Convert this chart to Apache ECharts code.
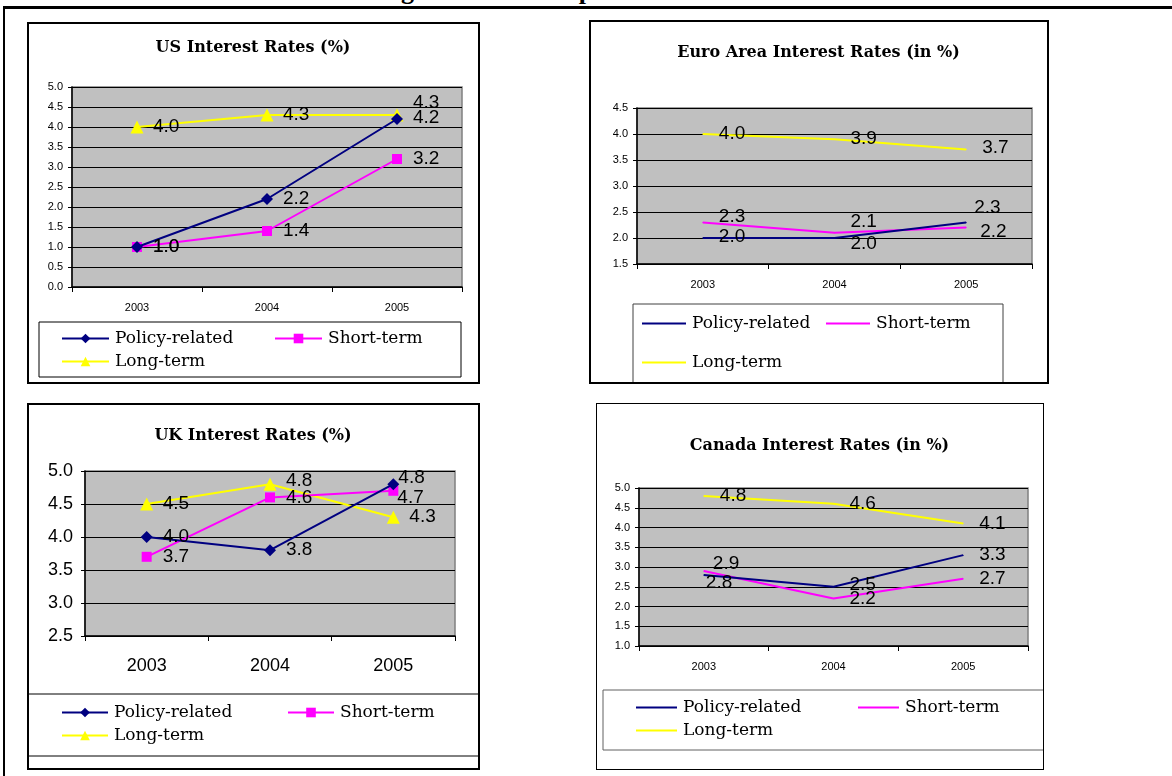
<!DOCTYPE html>
<html>
<head>
<meta charset="utf-8">
<script src="https://cdn.jsdelivr.net/npm/echarts@6/dist/echarts.min.js"></script>
<style>
  html, body { margin:0; padding:0; background:#fff; width:1172px; height:776px; overflow:hidden; position:relative; }
  .chart { position:absolute; }
  .box { position:absolute; box-sizing:border-box; border:2px solid #000; pointer-events:none; }
  #pagetitle { position:absolute; top:-24px; left:300px; width:582px; text-align:right; font:bold 26px/30px "Liberation Serif", serif; word-spacing:10px; white-space:nowrap; }
  #topline { position:absolute; left:3px; top:6px; width:1169px; height:3px; background:#000; }
  #leftline { position:absolute; left:3px; top:6px; width:2px; height:770px; background:#000; }
</style>
</head>
<body>
<div id="pagetitle">Figure 1.4: Comparison of Interest Rates</div>
<div id="topline"></div>
<div id="leftline"></div>

<div id="us" class="chart" style="left:27px;top:22px;width:452px;height:361px"></div>
<div id="eu" class="chart" style="left:589px;top:20px;width:459px;height:363px"></div>
<div id="uk" class="chart" style="left:27px;top:403px;width:452px;height:366px"></div>
<div id="ca" class="chart" style="left:596px;top:403px;width:447px;height:366px"></div>

<div class="box" style="left:27px;top:22px;width:453px;height:362px"></div>
<div class="box" style="left:589px;top:20px;width:460px;height:364px"></div>
<div class="box" style="left:27px;top:403px;width:453px;height:367px"></div>
<div class="box" style="left:596px;top:403px;width:448px;height:367px;border-width:1.5px"></div>

<script>
// ---------- data ----------
const years = ['2003', '2004', '2005'];
const seriesNames = ['Policy-related', 'Short-term', 'Long-term'];

const usPolicy = [1.0, 2.2, 4.2];
const usShort  = [1.0, 1.4, 3.2];
const usLong   = [4.0, 4.3, 4.3];

const euPolicy = [2.0, 2.0, 2.3];
const euShort  = [2.3, 2.1, 2.2];
const euLong   = [4.0, 3.9, 3.7];

const ukPolicy = [4.0, 3.8, 4.8];
const ukShort  = [3.7, 4.6, 4.7];
const ukLong   = [4.5, 4.8, 4.3];

const caPolicy = [2.8, 2.5, 3.3];
const caShort  = [2.9, 2.2, 2.7];
const caLong   = [4.8, 4.6, 4.1];

// ---------- styling ----------
const COLORS = ['#000080', '#FF00FF', '#FFFF00'];
const SYMBOLS = ['diamond', 'rect', 'triangle'];
const SYMBOL_SIZES = [12, 10, 13];
const SANS = '"Liberation Sans", Arial, sans-serif';
const SERIF = '"DejaVu Serif", serif';

function build(el, cfg) {
  const chart = echarts.init(document.getElementById(el), null, { renderer: 'canvas' });
  const values = cfg.values;
  const series = values.map((vals, si) => {
    const symSize = cfg.markers ? SYMBOL_SIZES[si] : 1;
    const offs = (cfg.offsets && cfg.offsets[si]) || [];
    return {
      name: seriesNames[si],
      type: 'line',
      data: vals.map((v, i) => ({
        value: v,
        label: offs[i] ? { offset: offs[i] } : undefined
      })),
      symbol: cfg.markers ? SYMBOLS[si] : 'circle',
      symbolSize: symSize,
      showSymbol: true,
      color: COLORS[si],
      itemStyle: { color: COLORS[si] },
      lineStyle: { color: COLORS[si], width: 2 },
      z: 3 - si,
      label: {
        show: true,
        position: 'right',
        distance: 16 - symSize / 2,
        color: '#000',
        fontFamily: SANS,
        fontSize: 19,
        formatter: p => Number(p.value).toFixed(1)
      },
      animation: false
    };
  });

  const legends = cfg.legendPos.map((pos, si) => ({
    data: [cfg.markers
      ? { name: seriesNames[si] }
      : { name: seriesNames[si], icon: 'rect', itemStyle: { color: COLORS[si], opacity: 1 } }],
    left: pos[0],
    top: pos[1],
    itemWidth: cfg.legendIconW,
    itemHeight: cfg.markers ? 12 : 2,
    selectedMode: false,
    padding: 0,
    textStyle: { fontFamily: SERIF, fontSize: 17, color: '#000', padding: [0, 0, 0, 1] }
  }));

  chart.setOption({
    animation: false,
    title: {
      text: cfg.title,
      left: 'center',
      top: cfg.titleTop,
      textStyle: { fontFamily: SERIF, fontWeight: 'bold', fontSize: 16, color: '#000' }
    },
    grid: Object.assign({
      show: true,
      backgroundColor: '#C0C0C0',
      borderColor: '#808080',
      borderWidth: 1.5
    }, cfg.grid),
    xAxis: {
      type: 'category',
      data: years,
      boundaryGap: true,
      axisLine: { lineStyle: { color: '#000', width: 1.5 } },
      axisTick: { show: true, alignWithLabel: false, length: 5, lineStyle: { color: '#000' } },
      axisLabel: { color: '#000', fontFamily: SANS, fontSize: cfg.axisFont, margin: cfg.xMargin },
      splitLine: { show: false }
    },
    yAxis: {
      type: 'value',
      min: cfg.yMin,
      max: cfg.yMax,
      interval: 0.5,
      axisLine: { show: true, lineStyle: { color: '#000', width: 1.5 } },
      axisTick: { show: true, length: 4, lineStyle: { color: '#000' } },
      axisLabel: { color: '#000', fontFamily: SANS, fontSize: cfg.axisFont, margin: cfg.yMargin,
                   formatter: v => v.toFixed(1) },
      splitLine: { show: true, lineStyle: { color: '#000', width: 1 } }
    },
    legend: legends,
    graphic: [{
      type: 'rect',
      shape: cfg.legendBox,
      style: { fill: null, stroke: cfg.legendBoxColor || '#000', lineWidth: 1 },
      z: 0
    }],
    series: series
  });
  return chart;
}

build('us', {
  title: 'US Interest Rates (%)',
  titleTop: 13,
  values: [usPolicy, usShort, usLong],
  markers: true,
  grid: { left: 45, top: 65, width: 390, height: 200 },
  yMin: 0, yMax: 5,
  axisFont: 11, xMargin: 15, yMargin: 9,
  legendPos: [[34, 308], [247, 308], [34, 331]],
  legendIconW: 47,
  legendBox: { x: 12, y: 300, width: 422, height: 55 },
  offsets: [[null, null, [0, -1]], [], [null, null, [0, -12]]]
});

build('eu', {
  title: 'Euro Area Interest Rates (in %)',
  titleTop: 20,
  values: [euPolicy, euShort, euLong],
  markers: false,
  grid: { left: 48, top: 88, width: 395, height: 156 },
  yMin: 1.5, yMax: 4.5,
  axisFont: 11, xMargin: 15, yMargin: 9,
  legendPos: [[53, 295], [237, 295], [53, 334]],
  legendIconW: 44,
  legendBox: { x: 44, y: 284, width: 370, height: 100 },
  legendBoxColor: '#404040',
  offsets: [[[0, -1], [0, 6], [-8, -15]], [[0, -6], [0, -11], [-2, 4]], [null, null, [0, -2]]]
});

build('uk', {
  title: 'UK Interest Rates (%)',
  titleTop: 20,
  values: [ukPolicy, ukShort, ukLong],
  markers: true,
  grid: { left: 58, top: 68, width: 370, height: 165 },
  yMin: 2.5, yMax: 5,
  axisFont: 18, xMargin: 21, yMargin: 12,
  legendPos: [[34, 301], [260, 301], [34, 324]],
  legendIconW: 46,
  legendBox: { x: 0, y: 291, width: 452, height: 62 },
  offsets: [[null, null, [-11, -6]], [null, null, [-12, 7]], [null, [0, -3], null]]
});

build('ca', {
  title: 'Canada Interest Rates (in %)',
  titleTop: 30,
  values: [caPolicy, caShort, caLong],
  markers: false,
  grid: { left: 43, top: 85, width: 389, height: 158 },
  yMin: 1.0, yMax: 5.0,
  axisFont: 11, xMargin: 15, yMargin: 9,
  legendPos: [[40, 296], [262, 296], [40, 319]],
  legendIconW: 41,
  legendBox: { x: 7, y: 287, width: 445, height: 60 },
  legendBoxColor: '#606060',
  offsets: [[[-14, 8], [0, -2], null], [[-7, -7], null, null], []]
});
</script>
</body>
</html>
